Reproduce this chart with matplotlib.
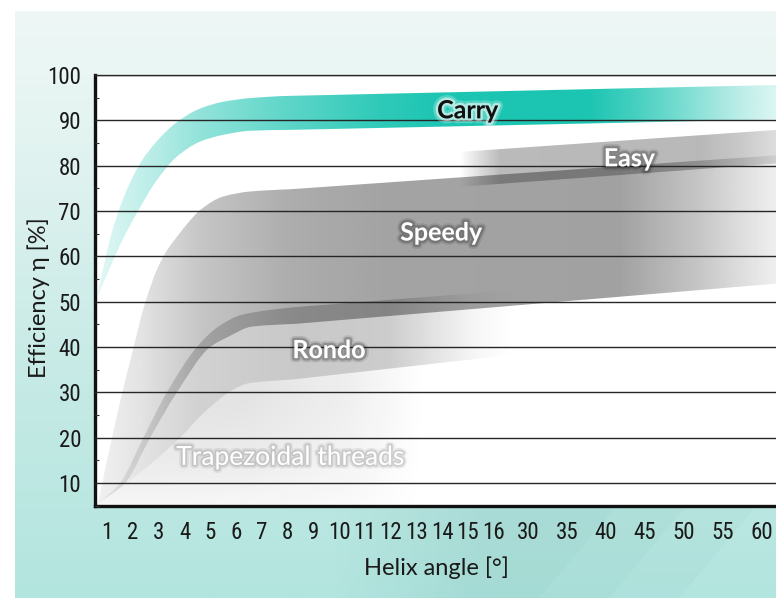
import numpy as np
import matplotlib
matplotlib.use('Agg')
import matplotlib.pyplot as plt
import matplotlib.patheffects as pe
from matplotlib import font_manager
from matplotlib.colors import to_rgb
from matplotlib.path import Path
from matplotlib.patches import PathPatch
from matplotlib.ticker import FixedLocator, MultipleLocator

# --- axis: helix angle ticks (uneven spacing, as printed) ---
TICK_ANGLES = [1, 2, 3, 4, 5, 6, 7, 8, 9, 10, 11, 12, 13, 14, 15, 16,
               30, 35, 40, 45, 50, 55, 60]
TICK_SLOTS = [0, 1, 2, 3, 4, 5, 6, 7, 8, 9, 10, 11, 12, 13, 14, 15,
              16.35, 17.86, 19.37, 20.88, 22.39, 23.90, 25.41]
Y_TICKS = [10, 20, 30, 40, 50, 60, 70, 80, 90, 100]

# --- efficiency bands (angle [deg], efficiency [%]) ---
CARRY_UP_A = [0.59, 0.84, 1.10, 1.62, 2.27, 2.92, 3.70, 4.60, 5.50, 6.54, 8.10, 62.0]
CARRY_UP_V = [50.8, 57.4, 63.8, 72.8, 80.5, 85.4, 89.6, 92.6, 94.1, 94.9, 95.4, 97.8]
CARRY_LO_A = [0.59, 1.10, 1.49, 2.14, 2.92, 3.70, 4.60, 5.50, 6.54, 8.10, 62.0]
CARRY_LO_V = [50.8, 57.5, 62.5, 69.5, 76.8, 82.0, 85.3, 86.8, 87.7, 87.9, 90.2]

SPEEDY_UP_A = [0.62, 0.80, 1.18, 1.58, 2.00, 2.40, 2.92, 3.30, 3.70, 4.15, 4.60, 5.50, 6.54, 8.10, 62.0]
SPEEDY_UP_V = [5.0, 10.0, 20.0, 30.0, 39.5, 48.5, 57.0, 61.2, 64.3, 67.5, 70.2, 73.2, 74.3, 74.8, 82.3]
SPEEDY_LO_A = [0.72, 1.69, 2.66, 3.70, 4.99, 5.71, 6.61, 8.29, 62.0]
SPEEDY_LO_V = [5.8, 10.0, 20.0, 30.0, 40.0, 42.3, 44.5, 45.1, 54.0]

RONDO_UP_A = [0.72, 1.49, 2.40, 3.31, 4.48, 5.31, 6.22, 8.29, 15.36, 30.0]
RONDO_UP_V = [5.8, 10.0, 20.0, 30.0, 40.0, 44.5, 47.1, 48.8, 51.9, 52.9]
RONDO_LO_A = [0.72, 1.75, 3.82, 4.60, 5.31, 5.71, 6.48, 8.29, 15.36, 30.0]
RONDO_LO_V = [5.8, 10.0, 20.0, 24.7, 28.3, 30.0, 32.0, 32.9, 37.4, 38.9]

EASY_A = [14.6, 62.0]
EASY_UP_V = [83.0, 87.9]
EASY_LO_V = [75.3, 80.5]

TRAP_FLOOR = 5.0

# band labels: (text, angle, efficiency at baseline)
LABELS = [("Carry", 15.0, 90.45), ("Easy", 43.0, 79.85), ("Speedy", 13.96, 63.5),
          ("Rondo", 9.61, 37.55), ("Trapezoidal threads", 8.11, 14.0)]


def pick_font(*names):
    avail = {f.name for f in font_manager.fontManager.ttflist}
    for n in names:
        if n in avail:
            return n
    return None


NARROW = pick_font('Liberation Sans Narrow', 'Roboto Condensed', 'Open Sans Condensed',
                   'DejaVu Sans Condensed', 'Noto Sans Condensed')
LABEL_FONT = pick_font('Lato', 'Open Sans', 'Roboto', 'DejaVu Sans')
TICK_FAMILY = [NARROW, 'DejaVu Sans'] if NARROW else ['DejaVu Sans']
TICK_SIZE = 16.5 if NARROW else 11
LABEL_FAMILY = [LABEL_FONT, 'DejaVu Sans']


def fwd(a):
    a = np.asarray(a, dtype=float)
    s = np.interp(a, TICK_ANGLES, TICK_SLOTS)
    hi_slope = (TICK_SLOTS[-1] - TICK_SLOTS[-2]) / (TICK_ANGLES[-1] - TICK_ANGLES[-2])
    s = np.where(a < TICK_ANGLES[0], TICK_SLOTS[0] + (a - TICK_ANGLES[0]), s)
    s = np.where(a > TICK_ANGLES[-1], TICK_SLOTS[-1] + (a - TICK_ANGLES[-1]) * hi_slope, s)
    return s


def inv(s):
    s = np.asarray(s, dtype=float)
    a = np.interp(s, TICK_SLOTS, TICK_ANGLES)
    hi_slope = (TICK_ANGLES[-1] - TICK_ANGLES[-2]) / (TICK_SLOTS[-1] - TICK_SLOTS[-2])
    a = np.where(s < TICK_SLOTS[0], TICK_ANGLES[0] + (s - TICK_SLOTS[0]), a)
    a = np.where(s > TICK_SLOTS[-1], TICK_ANGLES[-1] + (s - TICK_SLOTS[-1]) * hi_slope, a)
    return a


def pchip_slopes(x, y):
    h = np.diff(x)
    d = np.diff(y) / h
    m = np.zeros(len(x))
    m[0], m[-1] = d[0], d[-1]
    for k in range(1, len(x) - 1):
        if d[k - 1] * d[k] <= 0:
            m[k] = 0.0
        else:
            w1 = 2 * h[k] + h[k - 1]
            w2 = h[k] + 2 * h[k - 1]
            m[k] = (w1 + w2) / (w1 / d[k - 1] + w2 / d[k])
    return m


def edge_segments(xs, ys, lim=9.0):
    # smooth bezier pieces in the (linear) low-angle part, straight lines beyond
    xs, ys = np.asarray(xs, float), np.asarray(ys, float)
    m = pchip_slopes(xs, ys)
    segs = []
    for k in range(len(xs) - 1):
        x0, y0, x1, y1 = xs[k], ys[k], xs[k + 1], ys[k + 1]
        if x1 <= lim:
            h = x1 - x0
            segs.append(((x0 + h / 3, y0 + m[k] * h / 3), (x1 - h / 3, y1 - m[k + 1] * h / 3)))
        else:
            segs.append(None)
    return segs


def band_path(ua, uv, la, lv):
    verts = [(ua[0], uv[0])]
    codes = [Path.MOVETO]
    for k, s in enumerate(edge_segments(ua, uv)):
        p1 = (ua[k + 1], uv[k + 1])
        if s is None:
            verts.append(p1)
            codes.append(Path.LINETO)
        else:
            verts += [s[0], s[1], p1]
            codes += [Path.CURVE4] * 3
    verts.append((la[-1], lv[-1]))
    codes.append(Path.LINETO)
    segs = edge_segments(la, lv)
    for k in range(len(segs) - 1, -1, -1):
        p0 = (la[k], lv[k])
        s = segs[k]
        if s is None:
            verts.append(p0)
            codes.append(Path.LINETO)
        else:
            verts += [s[1], s[0], p0]
            codes += [Path.CURVE4] * 3
    verts.append(verts[0])
    codes.append(Path.LINETO)
    verts.append(verts[0])
    codes.append(Path.CLOSEPOLY)
    return Path(verts, codes)


def gradient_band(ax, path, color, px, pa, z, yprof=None):
    patch = PathPatch(path, facecolor='none', edgecolor='none', transform=ax.transData, zorder=z)
    ax.add_patch(patch)
    f = np.linspace(0, 1, 900)
    alpha = np.interp(f, px, pa)
    if yprof is None:
        a2 = alpha[None, :]
    else:
        g = np.linspace(1, 0, 400)
        a2 = np.interp(g, yprof[0], yprof[1])[:, None] * alpha[None, :]
    img = np.zeros(a2.shape + (4,))
    img[..., :3] = to_rgb(color)
    img[..., 3] = a2
    im = ax.imshow(img, extent=(0, 1, 0, 1), transform=ax.transAxes, aspect='auto',
                   interpolation='bilinear', origin='upper', zorder=z)
    im.set_clip_path(patch)
    return im


W, H = 776, 601
fig = plt.figure(figsize=(W / 100, H / 100), dpi=100, facecolor='white')

# --- background panel ---
bg = fig.add_axes([0, 0, 1, 1], zorder=-10)
bg.set_xlim(0, W)
bg.set_ylim(H, 0)
bg.axis('off')
ky = [11, 75, 200, 300, 420, 598]
kc = np.array([to_rgb(c) for c in ['#eef7f5', '#e9f6f3', '#dcf1ee', '#cfede9', '#c2e9e4', '#b3e5df']])
yy = np.linspace(11, 598, 300)
col = np.stack([np.interp(yy, ky, kc[:, i]) for i in range(3)], axis=-1)[:, None, :]
bg.imshow(col, extent=(15, W, 598, 11), aspect='auto', interpolation='bilinear')

# diagonal shading in the lower right corner
gx, gy = np.meshgrid(np.linspace(300, W, 480), np.linspace(505, 598, 94))
u = gx + (gy - 505) * 80 / 96
level = np.select([u < 617, u < 687, u < 757], [0.10, 0.07, 0.035], 0.0)
ramp = np.clip((gx - 330) / 150, 0, 1)
shade = np.zeros(gx.shape + (4,))
shade[..., :3] = to_rgb('#1f7f76')
shade[..., 3] = level * ramp
bg.imshow(shade, extent=(300, W, 598, 505), aspect='auto', interpolation='bilinear')
bg.set_xlim(0, W)
bg.set_ylim(H, 0)

# --- main axes ---
ax = fig.add_axes([95 / W, (H - 505.7) / H, (W - 95) / W, 430.7 / H])
ax.set_facecolor('white')
ax.set_xscale('function', functions=(fwd, inv))

# trapezoidal threads (below Rondo lower edge)
trap = band_path(RONDO_LO_A, RONDO_LO_V, [RONDO_LO_A[0], RONDO_LO_A[-1]], [TRAP_FLOOR, TRAP_FLOOR])
gradient_band(ax, trap, '#1a1a1a', [0, 0.228, 0.374, 0.485], [0.13, 0.12, 0.07, 0.0], 1.0,
              yprof=([0, 0.105, 0.263, 1], [0.3, 0.7, 1.0, 1.0]))
# Speedy
gradient_band(ax, band_path(SPEEDY_UP_A, SPEEDY_UP_V, SPEEDY_LO_A, SPEEDY_LO_V), '#1a1a1a',
              [0, 0.066, 0.154, 0.286, 0.419, 0.771, 0.830, 0.888, 0.947, 1.0],
              [0.06, 0.12, 0.25, 0.36, 0.40, 0.41, 0.33, 0.25, 0.15, 0.07], 1.1)
# Rondo
gradient_band(ax, band_path(RONDO_UP_A, RONDO_UP_V, RONDO_LO_A, RONDO_LO_V), '#1a1a1a',
              [0, 0.066, 0.154, 0.301, 0.433, 0.507, 0.565, 0.62],
              [0.05, 0.12, 0.20, 0.24, 0.22, 0.11, 0.03, 0.0], 1.2)
# Easy
gradient_band(ax, band_path(EASY_A, EASY_UP_V, EASY_A, EASY_LO_V), '#1a1a1a',
              [0, 0.536, 0.595, 0.888, 0.947, 1.0], [0, 0, 0.30, 0.31, 0.24, 0.15], 1.3)
# Carry
gradient_band(ax, band_path(CARRY_UP_A, CARRY_UP_V, CARRY_LO_A, CARRY_LO_V), '#1cc5b2',
              [0, 0.081, 0.154, 0.286, 0.419, 0.507, 0.727, 0.800, 0.874, 0.947, 1.0],
              [0.12, 0.30, 0.48, 0.72, 0.92, 1.0, 1.0, 0.80, 0.55, 0.30, 0.16], 1.4)

ax.set_xlim(0.52, 61.85)
ax.set_ylim(5, 100)

ax.xaxis.set_major_locator(FixedLocator(TICK_ANGLES))
ax.xaxis.set_minor_locator(FixedLocator([]))
ax.set_xticklabels([str(t) for t in TICK_ANGLES])
ax.yaxis.set_major_locator(FixedLocator(Y_TICKS))
ax.yaxis.set_minor_locator(MultipleLocator(5))

ax.set_axisbelow(False)
ax.yaxis.grid(True, color='#262626', lw=1.0)
ax.xaxis.grid(False)
ax.tick_params(axis='both', which='major', length=0, labelsize=TICK_SIZE, colors='#1a1a1a')
ax.tick_params(axis='x', which='major', pad=11)
ax.tick_params(axis='y', which='major', pad=10)
ax.tick_params(axis='y', which='minor', length=3, direction='in', color='#333333', width=0.8)
for lab in ax.get_xticklabels() + ax.get_yticklabels():
    lab.set_family(TICK_FAMILY)

for side in ['left', 'bottom']:
    ax.spines[side].set_linewidth(2.4)
    ax.spines[side].set_color('#111111')
ax.spines['top'].set_linewidth(1.0)
ax.spines['top'].set_color('#444444')
ax.spines['right'].set_visible(False)

ax.set_xlabel('Helix angle [°]', fontsize=17, family=LABEL_FAMILY, color='#1a1a1a')
ax.xaxis.set_label_coords(0.502, -0.118)
ax.set_ylabel('Efficiency η [%]', fontsize=17, family=LABEL_FAMILY, color='#1a1a1a')
ax.yaxis.set_label_coords(-0.066, 0.483)

dark_glow = [pe.Stroke(linewidth=6, foreground='#202020', alpha=0.12),
             pe.Stroke(linewidth=3.5, foreground='#202020', alpha=0.25),
             pe.Normal()]
light_glow = [pe.Stroke(linewidth=7, foreground='white', alpha=0.25),
              pe.Stroke(linewidth=3.5, foreground='white', alpha=0.55),
              pe.Normal()]
soft_glow = [pe.Stroke(linewidth=5, foreground='#808080', alpha=0.15),
             pe.Stroke(linewidth=2.5, foreground='#808080', alpha=0.25),
             pe.Normal()]

for text, a, v in LABELS:
    if text == 'Carry':
        ax.text(a, v, text, ha='center', va='baseline', fontsize=18, fontweight='bold',
                family=LABEL_FAMILY, color='#111111', path_effects=light_glow, zorder=5)
    elif text == 'Trapezoidal threads':
        ax.text(a, v, text, ha='center', va='baseline', fontsize=19,
                family=LABEL_FAMILY, color='white', path_effects=soft_glow, zorder=5)
    else:
        ax.text(a, v, text, ha='center', va='baseline', fontsize=18, fontweight='bold',
                family=LABEL_FAMILY, color='white', path_effects=dark_glow, zorder=5)

fig.savefig('out.png', dpi=100, facecolor='white')
